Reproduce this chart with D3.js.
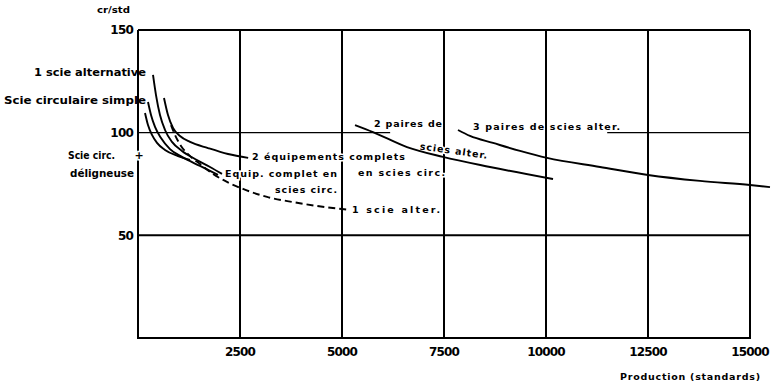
<!DOCTYPE html>
<html><head><meta charset="utf-8">
<script src="https://cdn.jsdelivr.net/npm/d3@7"></script>
<style>
html,body{margin:0;padding:0;background:#fff;}
svg{display:block;}
text{font-family:"DejaVu Sans",sans-serif;font-weight:bold;fill:#000;}
</style></head>
<body>
<script>
// ---------- DATA ----------
const xTicks = [2500, 5000, 7500, 10000, 12500, 15000];
const xTickLabels = ["2500", "5000", "7500", "10000", "12500", "15000"];
const yTicks = [50, 100, 150];
const yTickLabels = ["50", "100", "150"];
const gap100 = [6180, 11500]; // the 100-line is interrupted by the labels

// 1 scie alternative (solid)
const sciAltX = [368, 441, 539, 662, 833, 1078, 1397, 1765, 2059];
const sciAltY = [128.1, 118.3, 108.6, 101.3, 95.5, 91.1, 87.2, 83.3, 79.9];
// 2 équipements complets en scies circ.
const deuxEqX = [637, 735, 858, 1029, 1275, 1716, 2206, 2700];
const deuxEqY = [116.9, 108.6, 102.3, 98.4, 95.5, 92.5, 89.6, 87.7];
// Scie circulaire simple
const circSimpleX = [245, 319, 417, 564, 784, 1078, 1520, 1961];
const circSimpleY = [114.9, 108.6, 102.8, 97.4, 92.0, 88.2, 83.8, 79.4];
// Scie circ. + déligneuse
const circDeligX = [172, 245, 343, 466, 662, 980, 1275];
const circDeligY = [109.6, 103.7, 98.9, 95.0, 91.6, 88.6, 86.7];
// 1 scie alter. (dashed, extended)
const uneAltX = [809, 907, 1054, 1275, 1520, 1838, 2181, 2574, 3162, 3799, 4387, 5000, 5150];
const uneAltY = [103.7, 98.9, 93.5, 88.6, 84.7, 79.9, 76.0, 72.6, 68.7, 66.2, 64.3, 62.8, 62.5];
// 2 paires de scies alter.
const deuxPairesX = [5319, 5760, 6593, 7475, 8627, 10172];
const deuxPairesY = [103.7, 100.3, 93.0, 88.2, 83.3, 77.4];
// 3 paires de scies alter.
const troisPairesX = [7843, 8137, 8701, 9363, 10025, 11324, 12500, 13775, 15000, 15490];
const troisPairesY = [101.3, 98.4, 95.0, 91.1, 87.7, 83.3, 79.4, 76.5, 74.5, 73.5];

// ---------- LAYOUT ----------
const W = 773, H = 383;
const svg = d3.select("body").append("svg").attr("width", W).attr("height", H);
const x = d3.scaleLinear().domain([0, 15000]).range([138, 750]);
const y = d3.scaleLinear().domain([0, 150]).range([338, 30]);

const g = svg.append("g");
g.append("line").attr("x1", x(0)).attr("x2", x(0)).attr("y1", y(150)).attr("y2", y(0))
  .attr("stroke", "#000").attr("stroke-width", 2);
g.append("line").attr("x1", x(0) - 1).attr("x2", x(15000) + 1).attr("y1", y(0)).attr("y2", y(0))
  .attr("stroke", "#000").attr("stroke-width", 2);
g.selectAll(".vg").data(xTicks).enter().append("line")
  .attr("x1", d => x(d)).attr("x2", d => x(d)).attr("y1", y(150)).attr("y2", y(0))
  .attr("stroke", "#000").attr("stroke-width", 2);
yTicks.forEach(t => {
  if (t === 100) {
    [[0, gap100[0]], [gap100[1], 15000]].forEach(seg => {
      g.append("line").attr("x1", x(seg[0])).attr("x2", x(seg[1])).attr("y1", y(t)).attr("y2", y(t))
        .attr("stroke", "#000").attr("stroke-width", 1.4);
    });
  } else {
    g.append("line").attr("x1", x(0)).attr("x2", x(15000)).attr("y1", y(t)).attr("y2", y(t))
      .attr("stroke", "#000").attr("stroke-width", 2);
  }
});

// tick labels
g.selectAll(".xt").data(xTicks).enter().append("text")
  .attr("x", d => x(d)).attr("y", 356).attr("text-anchor", "middle")
  .attr("font-size", 12).attr("letter-spacing", -0.8)
  .text((d, i) => xTickLabels[i]);
g.selectAll(".yt").data(yTicks).enter().append("text")
  .attr("x", x(0) - 5).attr("y", d => y(d)).attr("dy", "0.36em").attr("text-anchor", "end")
  .attr("font-size", 12).attr("letter-spacing", -0.8)
  .text((d, i) => yTickLabels[i]);
svg.append("text").attr("x", 97).attr("y", 13).attr("font-size", 9.5)
  .attr("textLength", 33).attr("lengthAdjust", "spacingAndGlyphs").text("cr/std");
svg.append("text").attr("x", 620).attr("y", 380).attr("font-size", 9.5)
  .attr("textLength", 140).attr("lengthAdjust", "spacing").text("Production (standards)");

function label(txt, dx, dy, len, opts = {}) {
  const t = svg.append("text")
    .attr("x", x(dx)).attr("y", y(dy)).attr("dy", "0.36em")
    .attr("font-size", opts.size || 9.5)
    .attr("text-anchor", opts.anchor || "start")
    .attr("textLength", len).attr("lengthAdjust", opts.adjust || "spacing")
    .attr("stroke", "#fff").attr("stroke-width", opts.halo === 0 ? 0 : 3)
    .attr("paint-order", "stroke")
    .text(txt);
  if (opts.rotate) t.attr("transform", `rotate(${opts.rotate},${x(dx)},${y(dy)})`);
  return t;
}
label("1 scie alternative", 196, 129.5, 112, {anchor: "end", size: 10.5, halo: 0, adjust: "spacingAndGlyphs"});
label("Scie circulaire simple", 196, 115.9, 142, {anchor: "end", size: 10.5, halo: 0, adjust: "spacingAndGlyphs"});
label("Scie circ.", -1716, 89.1, 47, {size: 10, adjust: "spacingAndGlyphs"});
label("+", 25, 89.1, 8, {anchor: "middle", size: 11});
label("déligneuse", -1667, 80.4, 64, {size: 10, adjust: "spacingAndGlyphs"});
label("2 équipements complets", 2794, 88.2, 153);
label("en scies circ.", 5392, 80.4, 87);
label("Equip. complet en", 2132, 79.9, 112);
label("scies circ.", 3358, 72.1, 62);
label("1 scie alter.", 5245, 62.3, 88);
label("2 paires de", 5784, 104.2, 68, {halo: 0});
label("scies alter.", 6912, 93.5, 68, {rotate: 8});
label("3 paires de scies alter.", 8211, 102.8, 147, {halo: 0});

const curves = [
  {xs: sciAltX, ys: sciAltY, dash: null},
  {xs: deuxEqX, ys: deuxEqY, dash: null},
  {xs: circSimpleX, ys: circSimpleY, dash: null},
  {xs: circDeligX, ys: circDeligY, dash: null},
  {xs: uneAltX, ys: uneAltY, dash: "7,4"},
  {xs: deuxPairesX, ys: deuxPairesY, dash: null},
  {xs: troisPairesX, ys: troisPairesY, dash: null}
];
const line = d3.line().x(d => x(d[0])).y(d => y(d[1])).curve(d3.curveMonotoneX);
curves.forEach(c => {
  svg.append("path").datum(c.xs.map((v, i) => [v, c.ys[i]]))
    .attr("d", line).attr("fill", "none").attr("stroke", "#000")
    .attr("stroke-width", 1.9).attr("stroke-dasharray", c.dash);
});
</script>
</body></html>
